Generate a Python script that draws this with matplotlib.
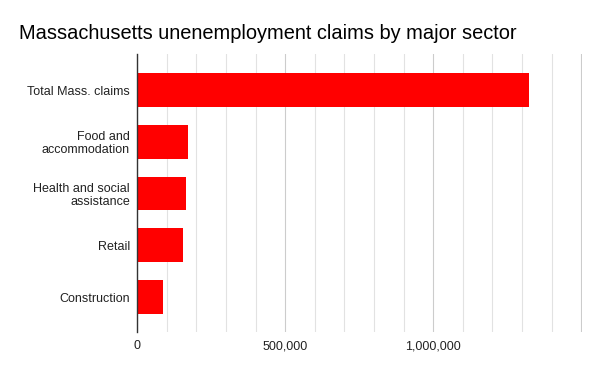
import matplotlib.pyplot as plt
from matplotlib.ticker import FuncFormatter, MultipleLocator
from matplotlib.transforms import blended_transform_factory, offset_copy

plt.rcParams['font.family'] = ['Liberation Sans', 'DejaVu Sans']

sectors = ['Total Mass. claims', 'Food and\naccommodation', 'Health and social\nassistance',
           'Retail', 'Construction']
claims = [1322000, 171000, 164500, 154000, 87000]

fig = plt.figure(figsize=(6, 3.71), dpi=100)
ax = fig.add_axes([0.2288, 0.1051, 0.7415, 0.7493])

ax.barh(range(len(sectors)), claims, height=0.65, color='#ff0000', zorder=3)

ax.set_xlim(0, 1503000)
ax.set_ylim(4.68, -0.70)
ax.xaxis.set_major_locator(MultipleLocator(500000))
ax.xaxis.set_minor_locator(MultipleLocator(100000))
ax.xaxis.set_major_formatter(FuncFormatter(lambda v, p: f'{int(v):,}' if v < 1400000 else ''))
ax.grid(axis='x', which='minor', color='#e2e2e2', linewidth=0.8, zorder=0)
ax.grid(axis='x', which='major', color='#cccccc', linewidth=0.8, zorder=0)

# category labels, right aligned line by line like the original
ax.set_yticks([])
trans = offset_copy(blended_transform_factory(ax.transAxes, ax.transData),
                    fig=fig, x=-5.3, y=-1.3, units='points')
for i, name in enumerate(sectors):
    ax.text(0, i, name, transform=trans, ha='right', va='center',
            multialignment='right', fontsize=9, color='#222222', linespacing=1.12)

ax.tick_params(axis='x', which='both', length=0, pad=6, labelsize=9, labelcolor='#222222')

for s in ['top', 'right', 'bottom']:
    ax.spines[s].set_visible(False)
ax.spines['left'].set_color('#333333')
ax.spines['left'].set_linewidth(1)
ax.spines['left'].set_zorder(4)

fig.text(0.032, 0.91, 'Massachusetts unenemployment claims by major sector',
         fontsize=14.4, color='#000000', va='center', ha='left')

fig.savefig('out.png', dpi=100)
